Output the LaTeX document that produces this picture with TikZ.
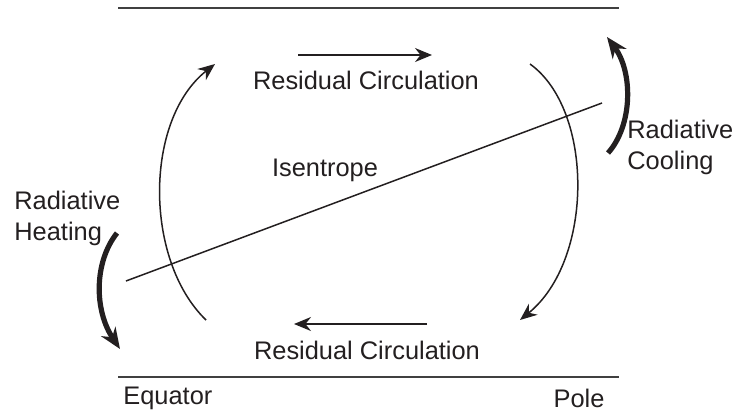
\documentclass[tikz,border=0pt]{standalone}
\usepackage{fontspec}
\setmainfont{Liberation Sans}
\usetikzlibrary{arrows.meta,positioning}
\definecolor{ink}{HTML}{231F20}
\definecolor{rulegray}{HTML}{404040}

\begin{document}
\begin{tikzpicture}[
    x=0.5pt, y=-0.5pt,
    font=\fontsize{12.7}{15.5}\selectfont,
    text=ink,
    >={Stealth[length=8.5pt,width=7pt]},
    axis/.style={draw=rulegray, line width=1.2pt},
    flow/.style={draw=ink, line width=0.75pt, ->},
    heat/.style={draw=ink, line width=2.6pt, -{Stealth[length=10.5pt,width=8.5pt]}},
    lbl/.style={inner sep=0pt, align=left}
]
\useasboundingbox (0,0) rectangle (734,413);

% Axes: top and bottom of the layer
\coordinate (topL) at (118,8);
\coordinate (topR) at (619,8);
\coordinate (botL) at (118,377);
\coordinate (botR) at (619,377);
\draw[axis] (topL) -- (topR);
\draw[axis] (botL) -- (botR);

\node[lbl, anchor=west] (equator) at (123,398) {Equator};
\node[lbl] (pole) at (579,398) {Pole};

% Residual circulation
\coordinate (upS) at (298,55);
\coordinate (upE) at (432,55);
\draw[flow] (upS) -- (upE);
\node[lbl] (rcTop) at (366,80) {Residual Circulation};

\coordinate (lowS) at (427,324);
\coordinate (lowE) at (294,324);
\draw[flow] (lowS) -- (lowE);
\node[lbl] (rcBot) at (367,350) {Residual Circulation};

\coordinate (leftS) at (206,320);
\coordinate (leftE) at (215,64);
\draw[flow] (leftS) .. controls (144,260) and (144,120) .. (leftE);

\coordinate (rightS) at (530,64);
\coordinate (rightE) at (520,320);
\draw[flow] (rightS) .. controls (594,110) and (594,260) .. (rightE);

% Isentrope
\coordinate (isoL) at (126,281);
\coordinate (isoR) at (602,103);
\draw[draw=ink, line width=0.75pt] (isoL) -- (isoR);
\node[lbl] (iso) at (325,170) {Isentrope};

% Radiative heating / cooling
\node[lbl, anchor=west] (heating) at (14,218) {Radiative\\Heating};
\coordinate (heatS) at (117,233);
\coordinate (heatE) at (120,349);
\draw[heat] (heatS) .. controls (94,262) and (94,310) .. (heatE);

\node[lbl, anchor=west] (cooling) at (627,147) {Radiative\\Cooling};
\coordinate (coolS) at (608,153);
\coordinate (coolE) at (607,37);
\draw[heat] (coolS) .. controls (633,125) and (633,72) .. (coolE);

\end{tikzpicture}
\end{document}
